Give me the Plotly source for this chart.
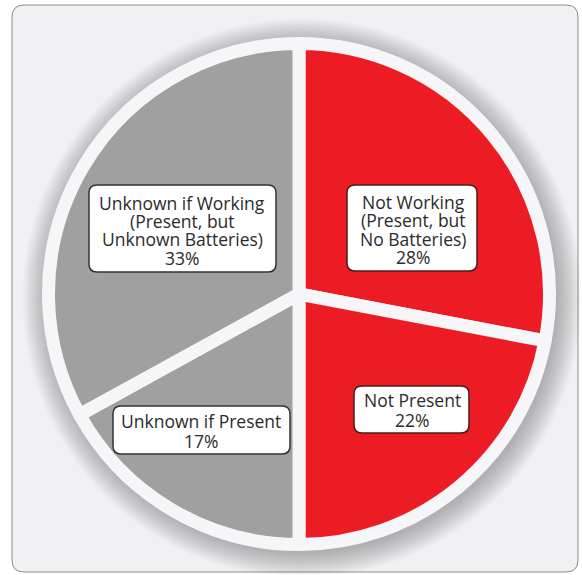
import plotly.graph_objects as go

W, H = 582, 575

# ---- data ----
categories = [
    "Not Working (Present, but No Batteries)",
    "Not Present",
    "Unknown if Present",
    "Unknown if Working (Present, but Unknown Batteries)",
]
label_lines = [
    ["Not Working", "(Present, but", "No Batteries)"],
    ["Not Present"],
    ["Unknown if Present"],
    ["Unknown if Working", "(Present, but", "Unknown Batteries)"],
]
percent_values = [28, 22, 17, 33]
slice_colors = ["#ED1C24", "#ED1C24", "#A0A0A0", "#A0A0A0"]

# ---- layout helpers (pixel -> paper) ----
def px(x):
    return x / W


def py(y):
    return 1 - y / H


def rounded_rect(x0, y0, x1, y1, r):
    pts = [
        ("M", [(x0 + r, y0)]),
        ("L", [(x1 - r, y0)]),
        ("Q", [(x1, y0), (x1, y0 + r)]),
        ("L", [(x1, y1 - r)]),
        ("Q", [(x1, y1), (x1 - r, y1)]),
        ("L", [(x0 + r, y1)]),
        ("Q", [(x0, y1), (x0, y1 - r)]),
        ("L", [(x0, y0 + r)]),
        ("Q", [(x0, y0), (x0 + r, y0)]),
    ]
    s = ""
    for cmd, ps in pts:
        s += cmd + " " + " ".join(f"{px(a):.5f},{py(b):.5f}" for a, b in ps) + " "
    return s + "Z"


# pie geometry in pixels
CX, CY, R = 299, 294, 250.5
RING = "#f6f6f8"

shapes = []
# panel
shapes.append(dict(type="path", xref="paper", yref="paper", layer="below",
                   path=rounded_rect(12, 5, 578, 572, 12),
                   fillcolor="#f1f1f3", line=dict(color="#8c8c8c", width=1)))
# soft shadow around the pie
for k in range(14):
    rr = 256 + 1.8 * k
    sx, sy = CX + 3, CY + 4
    shapes.append(dict(type="circle", xref="paper", yref="paper", layer="below",
                       x0=px(sx - rr), x1=px(sx + rr), y0=py(sy + rr), y1=py(sy - rr),
                       fillcolor="rgba(0,0,0,0.021)", line=dict(width=0)))

# label boxes (pixel positions)
boxes = [
    dict(box=(347, 185, 477, 271), cx=413, ys=[202, 220, 238.5, 257], border="#4a1c1c"),
    dict(box=(354, 386, 469, 433), cx=412, ys=[400, 420], border="#4a1c1c"),
    dict(box=(113, 406, 290, 454), cx=201, ys=[421, 441], border="#333333"),
    dict(box=(89, 185, 276, 272), cx=182, ys=[203, 221, 239, 257.5], border="#333333"),
]

annotations = []
for i, b in enumerate(boxes):
    x0, y0, x1, y1 = b["box"]
    shapes.append(dict(type="path", xref="paper", yref="paper", layer="above",
                       path=rounded_rect(x0, y0, x1, y1, 8),
                       fillcolor="white", line=dict(color=b["border"], width=1.5)))
    texts = label_lines[i] + [f"{percent_values[i]}%"]
    for t, yy in zip(texts, b["ys"]):
        annotations.append(dict(x=px(b["cx"]), y=py(yy), xref="paper", yref="paper",
                                text=t, showarrow=False, xanchor="center", yanchor="middle",
                                font=dict(family="Open Sans", size=17.5, color="#2b2b2b")))

fig = go.Figure(go.Pie(
    labels=categories,
    values=percent_values,
    sort=False,
    direction="clockwise",
    rotation=0,
    textinfo="none",
    hoverinfo="label+percent",
    marker=dict(colors=slice_colors, line=dict(color=RING, width=13)),
    domain=dict(x=[px(CX - R), px(CX + R)], y=[py(CY + R), py(CY - R)]),
    showlegend=False,
))

fig.update_layout(
    width=W, height=H,
    margin=dict(l=0, r=0, t=0, b=0),
    paper_bgcolor="white",
    plot_bgcolor="white",
    shapes=shapes,
    annotations=annotations,
    showlegend=False,
)

fig.write_html("out.html", config={"displayModeBar": False},
               post_script="document.body.style.margin='0';")
